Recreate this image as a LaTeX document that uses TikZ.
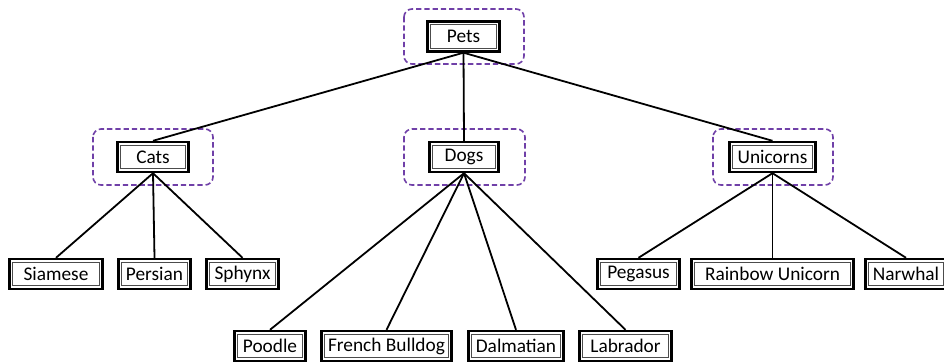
\documentclass[tikz,border=0pt]{standalone}
\usepackage{fontspec}
\setmainfont{Carlito}
\definecolor{grp}{RGB}{112,64,168}
\tikzset{
  box/.style={draw, line width=1.9pt, fill=white, inner sep=0pt,
    font=\fontsize{14.5}{16}\selectfont,
    minimum height=22.4pt,
    path picture={\draw[line width=0.8pt, black!70] ([shift={(2.5pt,-2.5pt)}]path picture bounding box.north west) rectangle ([shift={(-2.5pt,2.5pt)}]path picture bounding box.south east);}},
  grpbox/.style={draw=grp, line width=1.2pt, dash pattern=on 4pt off 2.2pt, rounded corners=6pt},
  edge/.style={line width=1.35pt, black}
}
\newcommand{\bx}[5]{\node[box, minimum width={#4*0.75pt-1.9pt}] (#1) at (#2,#3) {#5};}
\begin{document}
\begin{tikzpicture}[x=0.75pt,y=-0.75pt]
\useasboundingbox (0,0) rectangle (944,363);
\fill[white] (0,0) rectangle (944,363);
\clip (0,0) rectangle (944,363);
% group frames
\draw[grpbox] (404,9) rectangle (524,64);
\draw[grpbox] (93,129) rectangle (213,185);
\draw[grpbox] (404,129) rectangle (525,185);
\draw[grpbox] (713,129) rectangle (833,185);
% nodes
\bx{pets}{463.5}{36.5}{75}{Pets}
\bx{cats}{153}{157}{74}{Cats}
\bx{dogs}{464}{157}{72}{Dogs}
\bx{unic}{772.5}{157}{89}{Unicorns}
\bx{siam}{56}{274}{96}{Siamese}
\bx{pers}{154.5}{274}{75}{Persian}
\bx{sphy}{242.5}{274}{75}{Sphynx}
\bx{pega}{638.5}{274}{85}{Pegasus}
\bx{rain}{772.5}{274}{165}{Rainbow Unicorn}
\bx{narw}{906}{274}{84}{Narwhal}
\bx{pood}{270}{346}{74}{Poodle}
\bx{fren}{386.5}{346}{133}{French Bulldog}
\bx{dalm}{516}{346}{98}{Dalmatian}
\bx{labr}{625.5}{346}{95}{Labrador}
% edges
\draw[edge] (pets.south) -- (cats.north);
\draw[edge] (pets.south) -- (dogs.north);
\draw[edge] (pets.south) -- (unic.north);
\draw[edge] (cats.south) -- (siam.north);
\draw[edge] (cats.south) -- (pers.north);
\draw[edge] (cats.south) -- (sphy.north);
\draw[edge] (dogs.south) -- (pood.north);
\draw[edge] (dogs.south) -- (fren.north);
\draw[edge] (dogs.south) -- (dalm.north);
\draw[edge] (dogs.south) -- (labr.north);
\draw[edge] (unic.south) -- (pega.north);
\draw[edge] (unic.south) -- (rain.north);
\draw[edge] (unic.south) -- (narw.north);
\end{tikzpicture}
\end{document}
